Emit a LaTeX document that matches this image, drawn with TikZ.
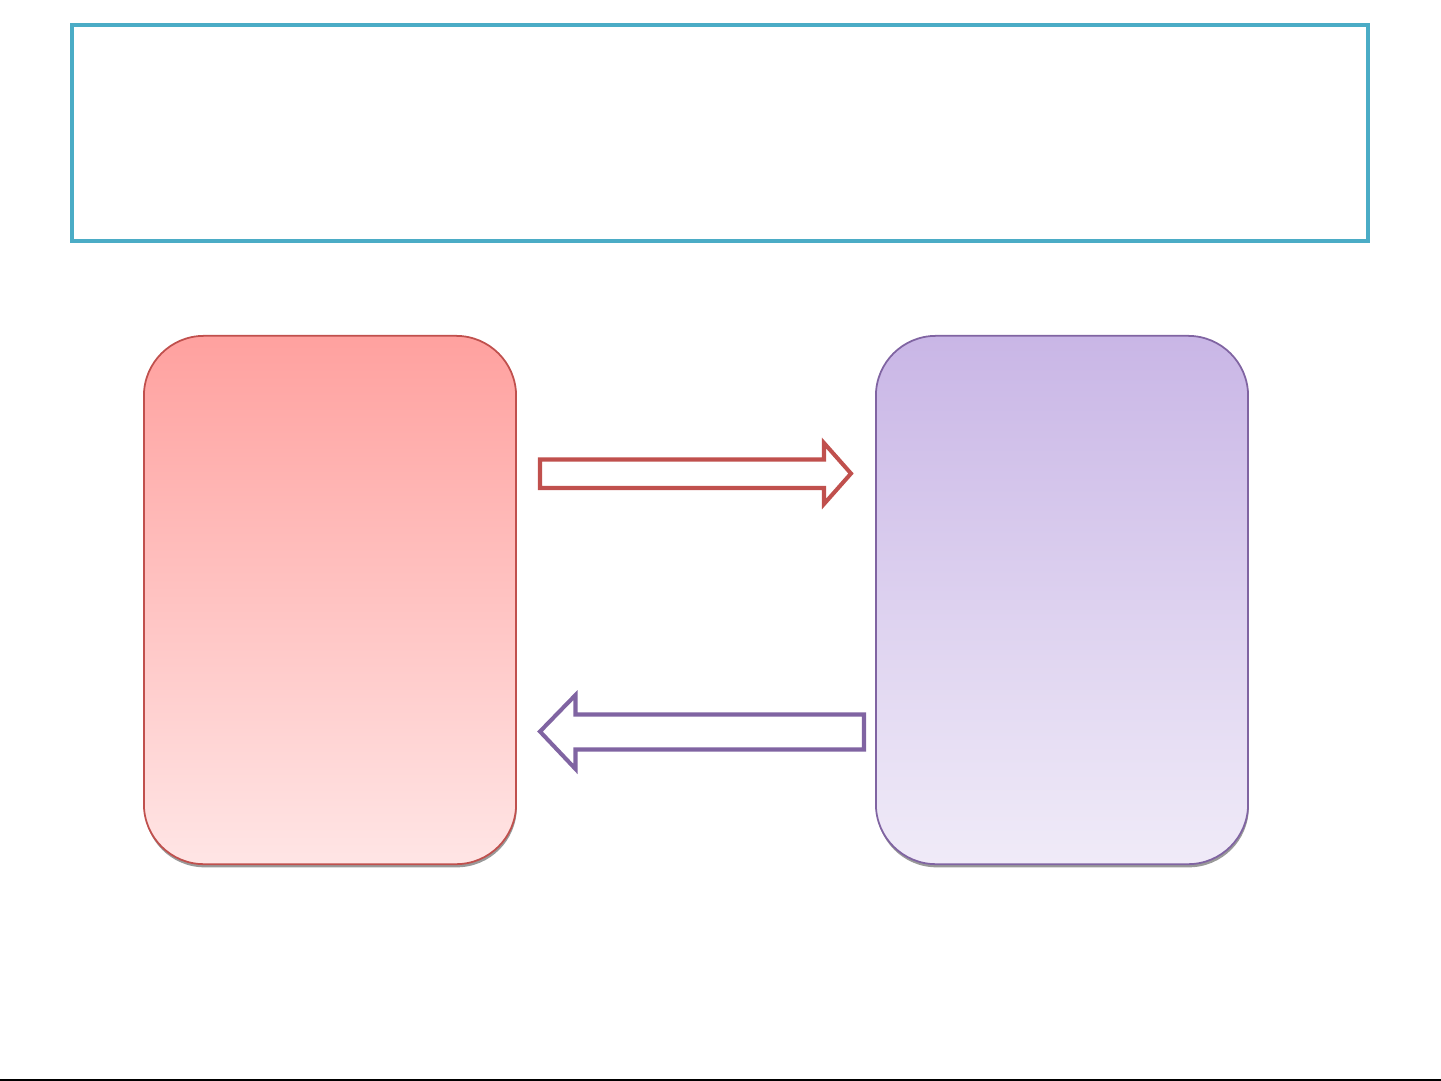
\documentclass[tikz,border=0pt]{standalone}
\usepackage{xcolor}
\usetikzlibrary{positioning,shadows}

\definecolor{tealline}{HTML}{4BACC6}
\definecolor{redline}{HTML}{C0504D}
\definecolor{purpleline}{HTML}{8064A2}
\definecolor{redtop}{HTML}{FFA19F}
\definecolor{redbottom}{HTML}{FFE5E5}
\definecolor{purpletop}{HTML}{C9B6E6}
\definecolor{purplebottom}{HTML}{F0EBF8}

\begin{document}
\begin{tikzpicture}[
  x=0.01cm, y=-0.01cm,
  frame/.style={draw=tealline, line width=1.15pt},
  panel/.style={rectangle, rounded corners=0.6cm, line width=0.5pt, minimum width=3.72cm, minimum height=5.28cm,
    drop shadow={shadow xshift=0.2pt, shadow yshift=-0.9pt, fill=gray!80, opacity=1}},
  redpanel/.style={panel, draw=redline, top color=redtop, bottom color=redbottom},
  purplepanel/.style={panel, draw=purpleline, top color=purpletop, bottom color=purplebottom},
  blockarrow/.style={line width=1.15pt, fill=white, line join=miter}
]
\useasboundingbox (0,0) rectangle (1441,1081);
\node[frame, rectangle, minimum width=12.96cm, minimum height=2.16cm] (title) at (720,133) {};
\node[redpanel] (left) at (330,600) {};
\node[purplepanel] (right) at (1062,600) {};
\draw[blockarrow, draw=redline] (540,459.5) -- (824,459.5) -- (824,443) -- (851,473.5)
  -- (824,504) -- (824,488) -- (540,488) -- cycle;
\draw[blockarrow, draw=purpleline] (540,731.5) -- (575.5,695) -- (575.5,714.5) -- (864,714.5)
  -- (864,749.5) -- (575.5,749.5) -- (575.5,769) -- cycle;
\draw[line width=0.3pt] (0,1080) -- (1441,1080);
\end{tikzpicture}
\end{document}
